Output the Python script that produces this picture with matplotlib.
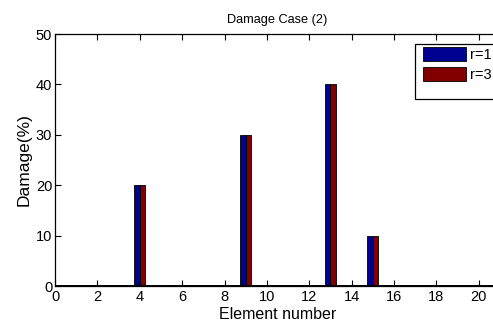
import numpy as np
import matplotlib
matplotlib.use("Agg")
import matplotlib.pyplot as plt
from matplotlib.patches import Rectangle

plt.rcParams['font.family'] = ['Liberation Sans', 'DejaVu Sans']

elements = np.arange(1, 21)
damage_r1 = [0, 0, 0, 20, 0, 0, 0, 0, 30, 0, 0, 0, 40, 0, 10, 0, 0, 0, 0, 0]
damage_r3 = [0, 0, 0, 20, 0, 0, 0, 0, 30, 0, 0, 0, 40, 0, 10, 0, 0, 0, 0, 0]
series_labels = ['r=1', 'r=3']
xticks = list(range(0, 21, 2))
yticks = [0, 10, 20, 30, 40, 50]

fig = plt.figure(figsize=(4.93, 3.30), dpi=100)
# axes extends slightly past the right edge of the figure
ax = fig.add_axes([55 / 493, 1 - 286 / 330, 445 / 493, 252 / 330])

w = 0.26
ax.bar(elements - w / 2, damage_r1, width=w, color='#000090', edgecolor='black',
       linewidth=0.6, label=series_labels[0])
ax.bar(elements + w / 2, damage_r3, width=w, color='#800000', edgecolor='black',
       linewidth=0.6, label=series_labels[1])
ax.axhline(0, color='black', linewidth=1.4)

ax.set_xlim(0, 21)
ax.set_ylim(0, 50)
ax.set_xticks(xticks)
ax.set_yticks(yticks)
ax.tick_params(direction='in', top=True, right=True, labelsize=10.5, length=4,
               width=0.8, pad=3)
ax.tick_params(axis='y', pad=2)
for s in ax.spines.values():
    s.set_linewidth(0.9)

ax.set_title('Damage Case (2)', fontsize=9.2, pad=8)
ax.set_xlabel('Element number', fontsize=11.5, labelpad=2)
ax.set_ylabel('Damage(%)', fontsize=12.5, labelpad=3)

# legend entries without frame, with a separate box drawn around them
leg = ax.legend(loc='upper left', bbox_to_anchor=(0.827, 0.948), fontsize=10.5,
                frameon=False, handlelength=2.95, handleheight=1.1, borderpad=0,
                labelspacing=0.34, handletextpad=0.3, borderaxespad=0)
leg.set_zorder(5)
box = Rectangle((0.809, 0.742), 0.25, 0.218, transform=ax.transAxes,
                facecolor='white', edgecolor='black', linewidth=0.9, zorder=4,
                clip_on=False)
ax.add_patch(box)

fig.savefig('out.png', dpi=100)
